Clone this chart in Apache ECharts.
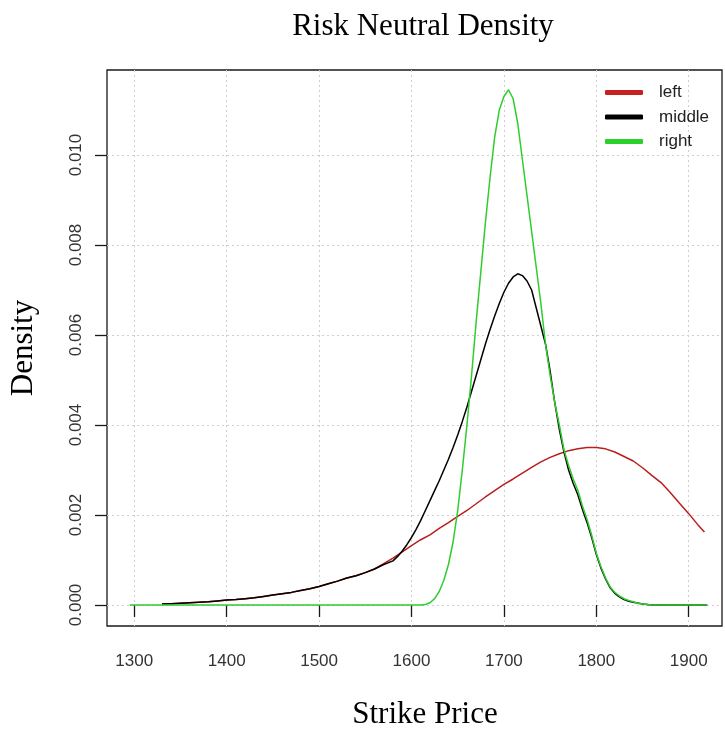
<!DOCTYPE html>
<html>
<head>
<meta charset="utf-8">
<script src="https://cdn.jsdelivr.net/npm/echarts@6/dist/echarts.min.js"></script>
<style>html,body{margin:0;padding:0;background:#fff}#c{width:725px;height:735px}</style>
</head>
<body>
<div id="c"></div>
<script>
// ---- data ----
var xTicks = [1300, 1400, 1500, 1600, 1700, 1800, 1900];
var yTicks = [0, 0.002, 0.004, 0.006, 0.008, 0.010];

var strikeLeft = [1330,1340,1350,1360,1370,1380,1390,1400,1410,1420,1430,1440,1450,1460,1470,1480,1490,1500,1510,1520,1530,1540,1550,1560,1570,1580,1590,1600,1610,1620,1630,1640,1650,1660,1670,1680,1690,1700,1710,1720,1730,1740,1750,1760,1770,1780,1790,1800,1810,1820,1830,1840,1850,1860,1870,1880,1890,1900,1910,1917];
var densityLeft = [0.00002,0.00003,0.00004,0.00005,0.00006,0.00007,0.00009,0.00011,0.00012,0.00014,0.00016,0.00019,0.00022,0.00025,0.00028,0.00032,0.00036,0.00041,0.00047,0.00053,0.0006,0.00065,0.00072,0.0008,0.00092,0.00104,0.00118,0.00132,0.00145,0.00156,0.0017,0.00183,0.00197,0.0021,0.00225,0.0024,0.00254,0.00268,0.0028,0.00293,0.00306,0.00318,0.00328,0.00336,0.00343,0.00347,0.0035,0.0035,0.00347,0.0034,0.0033,0.0032,0.00305,0.00288,0.00272,0.0025,0.00226,0.00203,0.00178,0.00162];

var strikeMiddle = [1330,1340,1350,1360,1370,1380,1390,1400,1410,1420,1430,1440,1450,1460,1470,1480,1490,1500,1510,1520,1530,1540,1550,1560,1570,1580,1585,1590,1595,1600,1605,1610,1615,1620,1625,1630,1635,1640,1645,1650,1655,1660,1665,1670,1675,1680,1685,1690,1695,1700,1705,1710,1715,1720,1725,1730,1735,1740,1745,1750,1755,1760,1765,1770,1775,1780,1785,1790,1795,1800,1805,1810,1815,1820,1825,1830,1835,1840,1850,1860,1920];
var densityMiddle = [0.00002,0.00003,0.00004,0.00005,0.00006,0.00007,0.00009,0.00011,0.00012,0.00014,0.00016,0.00019,0.00022,0.00025,0.00028,0.00032,0.00036,0.00041,0.00047,0.00053,0.0006,0.00065,0.00072,0.0008,0.0009,0.00098,0.00108,0.0012,0.00134,0.0015,0.00168,0.00188,0.0021,0.00232,0.00254,0.00276,0.003,0.00324,0.0035,0.00378,0.00408,0.0044,0.00475,0.0051,0.00545,0.0058,0.00612,0.00642,0.0067,0.00695,0.00715,0.00729,0.00736,0.00732,0.0072,0.007,0.0066,0.0062,0.0058,0.0052,0.0045,0.0039,0.0034,0.003,0.0027,0.00245,0.00212,0.00183,0.0015,0.00112,0.00082,0.00058,0.00038,0.00026,0.00018,0.00012,0.00008,0.00006,0.00002,0,0];

var strikeRight = [1295,1400,1500,1600,1610,1615,1620,1625,1630,1635,1640,1645,1650,1655,1660,1665,1670,1675,1680,1685,1690,1695,1700,1705,1710,1715,1720,1725,1730,1735,1740,1745,1750,1755,1760,1765,1770,1775,1780,1785,1790,1795,1800,1805,1810,1815,1820,1825,1830,1835,1840,1845,1850,1855,1860,1900,1920];
var densityRight = [0,0,0,0,0,0.00001,0.00005,0.00014,0.0003,0.00055,0.0009,0.0014,0.0021,0.003,0.004,0.0051,0.0063,0.0074,0.0085,0.0095,0.0104,0.011,0.0113,0.01145,0.01125,0.0107,0.0099,0.0091,0.0083,0.0075,0.0067,0.0058,0.0051,0.0045,0.004,0.00345,0.0031,0.0028,0.00255,0.0022,0.0019,0.00155,0.00115,0.00085,0.0006,0.0004,0.00028,0.0002,0.00014,0.0001,0.00007,0.00004,0.00002,0.00001,0,0,0];

function pairs(xs, ys) { return xs.map(function (x, i) { return [x, ys[i]]; }); }

var chart = echarts.init(document.getElementById('c'), null, {renderer: 'canvas'});
var tickFont = {fontFamily: 'Liberation Sans', fontSize: 17, color: '#333'};
var serif = 'Liberation Serif';

chart.setOption({
  animation: false,
  backgroundColor: '#fff',
  title: [
    {text: 'Risk Neutral Density', left: 418, top: 6, textAlign: 'center',
     textStyle: {fontFamily: serif, fontSize: 31, fontWeight: 'normal', color: '#000'}},
    {text: 'Strike Price', left: 420, top: 694, textAlign: 'center',
     textStyle: {fontFamily: serif, fontSize: 31, fontWeight: 'normal', color: '#000'}}
  ],
  grid: {left: 105, right: 3, top: 70, bottom: 109, show: true, borderColor: '#1a1a1a', borderWidth: 1.3, backgroundColor: 'transparent'},
  legend: {
    orient: 'vertical', left: 605, top: 84, itemGap: 7.5, itemWidth: 38, itemHeight: 5, padding: 0,
    icon: 'roundRect',
    textStyle: {fontFamily: 'Liberation Sans', fontSize: 17, color: '#222', padding: [0, 0, 0, 11]},
    data: ['left', 'middle', 'right']
  },
  xAxis: {
    type: 'value', min: 1270.5, max: 1936,
    axisLine: {show: false},
    axisTick: {show: true, length: 12, lineStyle: {color: '#1a1a1a', width: 1.3}, customValues: xTicks},
    axisLabel: Object.assign({margin: 27, customValues: xTicks,
      formatter: function (v) { return String(Math.round(v)); }}, tickFont),
    splitLine: {show: true, lineStyle: {color: '#cfcfcf', type: [2, 3], width: 1}}
  },
  yAxis: {
    type: 'value', min: -0.000467, max: 0.011889,
    name: 'Density', nameLocation: 'middle', nameRotate: 90, nameGap: 68,
    nameTextStyle: {fontFamily: serif, fontSize: 31, color: '#000'},
    axisLine: {show: false},
    axisTick: {show: true, length: 12, lineStyle: {color: '#1a1a1a', width: 1.3}, customValues: yTicks},
    axisLabel: Object.assign({margin: 22, rotate: 90, customValues: yTicks,
      formatter: function (v) { return v.toFixed(3); }}, tickFont),
    splitLine: {show: true, lineStyle: {color: '#cfcfcf', type: [2, 3], width: 1}}
  },
  series: [
    {name: 'left', type: 'line', showSymbol: false, symbol: 'none', color: '#c8201e',
     lineStyle: {width: 1.5, color: '#b81f1c'}, data: pairs(strikeLeft, densityLeft)},
    {name: 'middle', type: 'line', showSymbol: false, symbol: 'none', color: '#000',
     lineStyle: {width: 1.5, color: '#000'}, data: pairs(strikeMiddle, densityMiddle)},
    {name: 'right', type: 'line', showSymbol: false, symbol: 'none', color: '#2bd02b',
     lineStyle: {width: 1.5, color: '#2fcc2f'}, data: pairs(strikeRight, densityRight)}
  ]
});
</script>
</body>
</html>
